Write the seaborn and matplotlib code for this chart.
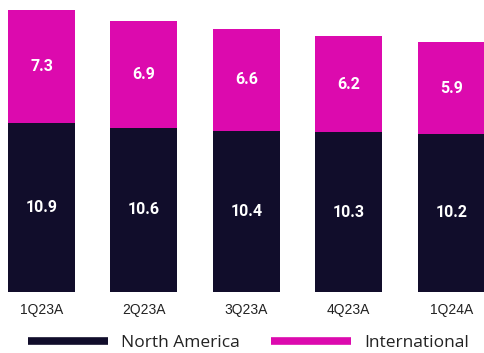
import matplotlib
matplotlib.use("Agg")
import matplotlib.pyplot as plt
import seaborn as sns
import pandas as pd
from matplotlib.lines import Line2D

quarters = ["1Q23A", "2Q23A", "3Q23A", "4Q23A", "1Q24A"]
north_america = [10.9, 10.6, 10.4, 10.3, 10.2]
international = [7.3, 6.9, 6.6, 6.2, 5.9]
series_names = ["North America", "International"]

DARK = "#110d2b"
MAGENTA = "#dc0aae"

df = pd.DataFrame({"quarter": quarters, "na": north_america, "intl": international})
df["total"] = df["na"] + df["intl"]

sns.set_theme(style="white")
fig = plt.figure(figsize=(4.84, 3.53), dpi=100)
ax = fig.add_axes([0, 61 / 353, 1, 292 / 353])

sns.barplot(data=df, x="quarter", y="total", color=MAGENTA, width=0.654,
            saturation=1, ax=ax, edgecolor="none")
sns.barplot(data=df, x="quarter", y="na", color=DARK, width=0.654,
            saturation=1, ax=ax, edgecolor="none")

for i, (n, t) in enumerate(zip(df["na"], df["intl"])):
    ax.text(i, n / 2, f"{n:.1f}", ha="center", va="center", color="white",
            fontsize=11.5, fontweight="bold", family="Roboto")
    ax.text(i, n + t / 2, f"{t:.1f}", ha="center", va="center", color="white",
            fontsize=11.5, fontweight="bold", family="Roboto")

ax.set_xlim(-0.405, 4.32)
ax.set_ylim(0, 18.84)
ax.set_xlabel("")
ax.set_ylabel("")
ax.set_yticks([])
ax.tick_params(axis="x", length=0, pad=8, labelsize=10, colors="#222222",
               labelfontfamily="Liberation Sans")
for s in ax.spines.values():
    s.set_visible(False)

handles = [Line2D([0], [0], color=DARK, lw=5.5, solid_capstyle="butt"),
           Line2D([0], [0], color=MAGENTA, lw=5.5, solid_capstyle="butt")]
leg = fig.legend(handles, series_names, loc="center", bbox_to_anchor=(0.514, 10 / 353),
                 ncol=2, frameon=False, handlelength=4.6, columnspacing=1.8,
                 handletextpad=0.75, borderpad=0.2,
                 prop={"family": "Open Sans", "size": 12.5})
for t in leg.get_texts():
    t.set_color("#222222")

fig.savefig("out.png", dpi=100)
